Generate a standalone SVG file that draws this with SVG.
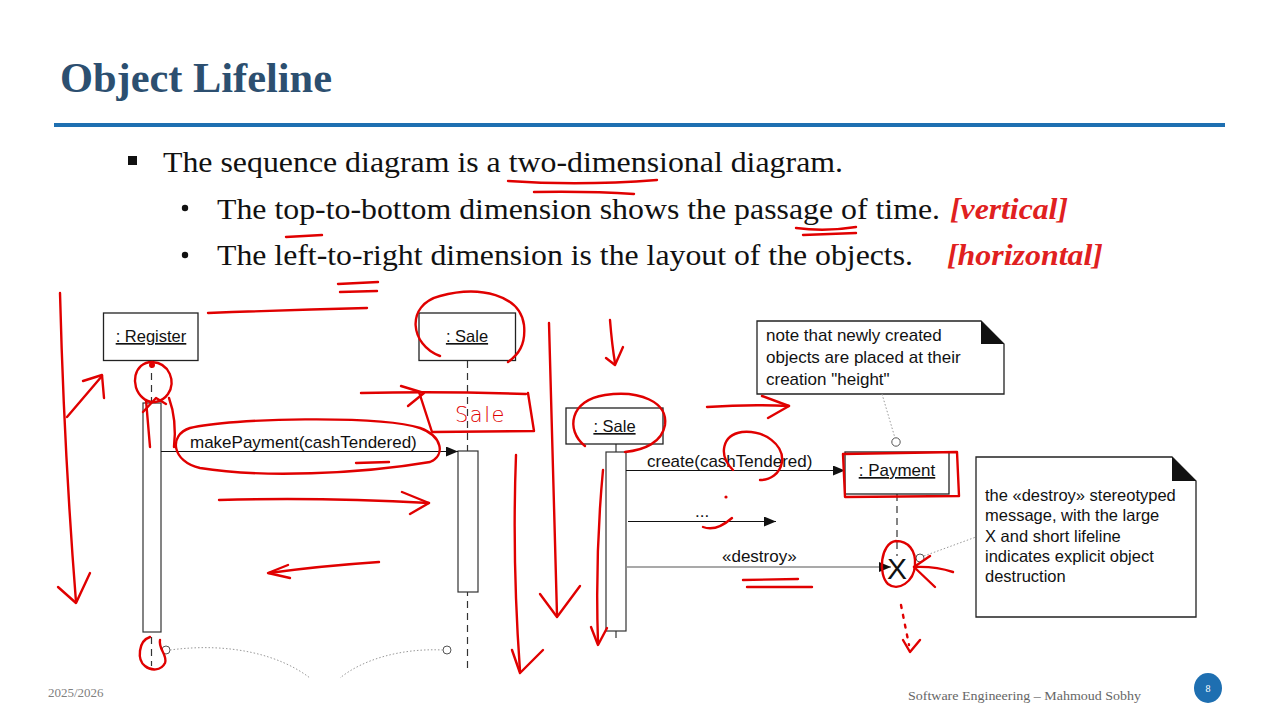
<svg xmlns="http://www.w3.org/2000/svg" width="1280" height="720" viewBox="0 0 1280 720">
<style>
.serif{font-family:"Liberation Serif","Times New Roman",serif;}
.sans{font-family:"Liberation Sans",Arial,sans-serif;fill:#111;}
.box{fill:#fff;stroke:#222;stroke-width:1.3;}
.act{fill:#fff;stroke:#333;stroke-width:1.2;}
.life{stroke:#333;stroke-width:1.2;stroke-dasharray:7 5;fill:none;}
.msg{stroke:#111;stroke-width:1.2;fill:none;}
.dot{stroke:#999;stroke-width:1;stroke-dasharray:1.5 2;fill:none;}
.circ{fill:#fff;stroke:#555;stroke-width:1;}
.ink{stroke:#e00000;stroke-width:2.4;fill:none;stroke-linecap:round;stroke-linejoin:round;}
.lbl{font-size:17px;}
.note{font-size:17px;}
</style>
<defs>
<marker id="arr" viewBox="0 0 12 10" refX="12" refY="5" markerWidth="12" markerHeight="10" markerUnits="userSpaceOnUse" orient="auto">
<path d="M0,0 L12,5 L0,10 Z" fill="#111"/>
</marker>
</defs>
<rect width="1280" height="720" fill="#fff"/>

<!-- Title -->
<g id="title">
<text class="serif" x="60" y="92" font-size="42" font-weight="bold" fill="#2c4f70" textLength="272" lengthAdjust="spacingAndGlyphs">Object Lifeline</text>
<rect x="54" y="123" width="1171" height="4" fill="#1e6fb1"/>
</g>

<!-- Bullets -->
<g id="bullets">
<rect x="128" y="156" width="9" height="9" fill="#111"/>
<text class="serif" x="163" y="172" font-size="30" fill="#111" textLength="680" lengthAdjust="spacingAndGlyphs">The sequence diagram is a two-dimensional diagram.</text>
<circle cx="185" cy="208" r="3.2" fill="#111"/>
<text class="serif" x="217" y="218.5" font-size="30" fill="#111" textLength="723" lengthAdjust="spacingAndGlyphs">The top-to-bottom dimension shows the passage of time.</text>
<text class="serif" x="950" y="218.5" font-size="30" font-weight="bold" font-style="italic" fill="#e02020" textLength="118" lengthAdjust="spacingAndGlyphs">[vertical]</text>
<circle cx="185" cy="255" r="3.2" fill="#111"/>
<text class="serif" x="217" y="265" font-size="30" fill="#111" textLength="696" lengthAdjust="spacingAndGlyphs">The left-to-right dimension is the layout of the objects.</text>
<text class="serif" x="947" y="265" font-size="30" font-weight="bold" font-style="italic" fill="#e02020" textLength="156" lengthAdjust="spacingAndGlyphs">[horizontal]</text>
</g>

<!-- Nodes -->
<g id="register">
<line class="life" x1="151.5" y1="361" x2="151.5" y2="666"/>
<rect class="box" x="103.5" y="313" width="94.5" height="47.5"/>
<text class="sans" x="151" y="342" font-size="16.5" text-anchor="middle" text-decoration="underline">: Register</text>
<rect class="act" x="143" y="403" width="18" height="229"/>
</g>

<g id="sale1">
<line class="life" x1="467.5" y1="361" x2="467.5" y2="668"/>
<rect class="box" x="419" y="313" width="96.5" height="47.5"/>
<text class="sans" x="467" y="342" font-size="16.5" text-anchor="middle" text-decoration="underline">: Sale</text>
<rect class="act" x="458" y="451" width="20" height="141"/>
</g>

<g id="sale2">
<line x1="616" y1="444" x2="616" y2="638" stroke="#333" stroke-width="1.2"/>
<rect class="box" x="566" y="408" width="97" height="36"/>
<text class="sans" x="614.5" y="432" font-size="16.5" text-anchor="middle" text-decoration="underline">: Sale</text>
<rect class="act" x="606" y="452" width="20" height="179"/>
</g>

<g id="payment">
<line class="life" x1="897" y1="494" x2="897" y2="556"/>
<rect class="box" x="845" y="452" width="104" height="42"/>
<text class="sans" x="897" y="476" font-size="17" text-anchor="middle" text-decoration="underline">: Payment</text>
<text class="sans" x="897" y="579" font-size="30" text-anchor="middle">X</text>
<circle class="circ" cx="920" cy="558" r="4"/>
</g>

<g id="note1">
<path class="box" d="M757,321 L981,321 L1004,344 L1004,394 L757,394 Z"/>
<path d="M981,321 L981,344 L1004,344 Z" fill="#111"/>
<text class="sans note" x="766" y="341">note that newly created</text>
<text class="sans note" x="766" y="363">objects are placed at their</text>
<text class="sans note" x="766" y="385">creation "height"</text>
<circle class="circ" cx="896" cy="442" r="4.2"/>
</g>

<g id="note2">
<path class="box" d="M976,457 L1172,457 L1196,481 L1196,617 L976,617 Z"/>
<path d="M1172,457 L1172,481 L1196,481 Z" fill="#111"/>
<text class="sans" font-size="16.5" x="985" y="501">the «destroy» stereotyped</text>
<text class="sans" font-size="16.5" x="985" y="521">message, with the large</text>
<text class="sans" font-size="16.5" x="985" y="541.5">X and short lifeline</text>
<text class="sans" font-size="16.5" x="985" y="562">indicates explicit object</text>
<text class="sans" font-size="16.5" x="985" y="582">destruction</text>
</g>

<!-- Connectors -->
<g id="connectors">
<line class="msg" x1="161" y1="451.5" x2="458" y2="451.5" marker-end="url(#arr)"/>
<text class="sans lbl" x="190" y="448">makePayment(cashTendered)</text>
<line class="msg" x1="626" y1="470.5" x2="845" y2="470.5" marker-end="url(#arr)"/>
<text class="sans lbl" x="647" y="467">create(cashTendered)</text>
<line class="msg" x1="628" y1="521.5" x2="776" y2="521.5" marker-end="url(#arr)"/>
<text class="sans lbl" x="695" y="517">...</text>
<line x1="627" y1="567" x2="891" y2="567" stroke="#555" stroke-width="1.2" marker-end="url(#arr)"/>
<text class="sans lbl" x="722" y="562">«destroy»</text>
<line class="dot" x1="882" y1="394" x2="895" y2="438"/>
<line class="dot" x1="924" y1="556" x2="976" y2="537"/>
<circle class="circ" cx="166" cy="650" r="4"/>
<circle class="circ" cx="447" cy="650" r="4"/>
<path class="dot" d="M170,650 C230,642 280,655 310,678"/>
<path class="dot" d="M443,650 C400,648 362,660 340,678"/>
</g>

<!-- Handwritten annotations -->
<g id="annotations">
<path class="ink" d="M508,181 Q580,186 657,180"/>
<path class="ink" d="M534,192 Q590,191 634,194"/>
<path class="ink" d="M286,237 L322,235"/>
<path class="ink" d="M796,228 Q825,232 856,227"/>
<path class="ink" d="M803,235 L856,233"/>
<path class="ink" d="M338,284 L378,282"/>
<path class="ink" d="M340,292 L377,291"/>
<path class="ink" d="M60,293 Q64,450 76,602"/>
<path class="ink" d="M58,587 L76,603 L90,573"/>
<path class="ink" d="M67,417 L102,376"/>
<path class="ink" d="M83,381 L102,375 L104,398"/>
<path class="ink" d="M208,313 Q290,310 367,308"/>
<path class="ink" d="M152,362 C134,362 129,386 143,398 C152,406 163,401 168,394 C176,382 170,363 152,362"/>
<circle cx="152" cy="365" r="3" fill="#e00000"/>
<path class="ink" d="M146,400 L150,447"/>
<path class="ink" d="M169,398 Q177,420 174,447"/>
<path class="ink" d="M143,412 L156,398 L166,404"/>
<path class="ink" d="M150,637 C138,641 137,660 145,666 C151,671 161,671 165,663 C168,655 158,649 160,640"/>
<path class="ink" d="M440,356 C410,345 405,305 440,296 C480,285 520,295 524,325 C526,345 518,355 508,362"/>
<path class="ink" d="M361,393 Q440,391 526,394"/>
<path class="ink" d="M401,386 L424,393 L408,406"/>
<path class="ink" d="M419,392 L432,432 L534,431 L528,393"/>
<text x="455" y="422" font-family="'DejaVu Sans',sans-serif" font-size="21" fill="#e00000" letter-spacing="1.5" font-weight="300">Sale</text>
<path class="ink" d="M420,428 C380,415 230,418 190,428 C168,435 172,462 200,468 C260,478 360,474 430,462 C446,455 442,436 420,428"/>
<path class="ink" d="M356,463 L389,462"/>
<path class="ink" d="M219,500 Q320,497 429,503"/>
<path class="ink" d="M402,492 L429,503 L410,514"/>
<path class="ink" d="M379,562 Q320,566 269,573"/>
<path class="ink" d="M288,565 L268,573 L290,578"/>
<path class="ink" d="M516,455 Q512,560 520,671"/>
<path class="ink" d="M512,650 L520,673 L543,650"/>
<path class="ink" d="M549,323 Q553,470 557,615"/>
<path class="ink" d="M540,594 L557,617 L580,586"/>
<path class="ink" d="M610,320 Q612,345 615,363"/>
<path class="ink" d="M606,358 L615,365 L623,347"/>
<path class="ink" d="M585,446 C565,430 570,400 605,395 C640,390 668,402 665,425 C662,442 645,450 625,452"/>
<path class="ink" d="M603,470 Q595,555 598,643"/>
<path class="ink" d="M591,627 L598,645 L607,628"/>
<path class="ink" d="M707,407 Q750,404 789,406"/>
<path class="ink" d="M762,396 L789,406 L768,418"/>
<path class="ink" d="M733,470 C718,455 722,435 742,432 C765,430 784,445 782,462 C780,474 770,480 760,480"/>
<path class="ink" d="M843,454 L957,452 L959,496 L845,497 Z" stroke-width="2"/>
<circle cx="726" cy="497" r="1.6" fill="#e00000"/>
<path class="ink" d="M703,527 Q716,532 732,518"/>
<path class="ink" d="M743,580 L798,579"/>
<path class="ink" d="M747,587 L812,587"/>
<path class="ink" d="M896,541 C880,543 878,575 888,584 C898,592 914,582 915,565 C916,550 908,541 896,541"/>
<path class="ink" d="M953,572 Q935,566 914,567"/>
<path class="ink" d="M930,556 L914,567 L935,587"/>
<path class="ink" d="M901,605 L909,645" stroke-dasharray="3 7"/>
<path class="ink" d="M903,640 L910,652 L920,640"/>
</g>

<!-- Footer -->
<g id="footer">
<text class="serif" x="48" y="697" font-size="13" fill="#808080">2025/2026</text>
<text class="serif" x="908" y="700" font-size="13.5" fill="#666" textLength="233" lengthAdjust="spacingAndGlyphs">Software Engineering – Mahmoud Sobhy</text>
<ellipse cx="1208" cy="688" rx="14" ry="15" fill="#1e6fb1"/>
<text class="serif" x="1208" y="692" font-size="10" fill="#fff" text-anchor="middle">8</text>
</g>
</svg>
